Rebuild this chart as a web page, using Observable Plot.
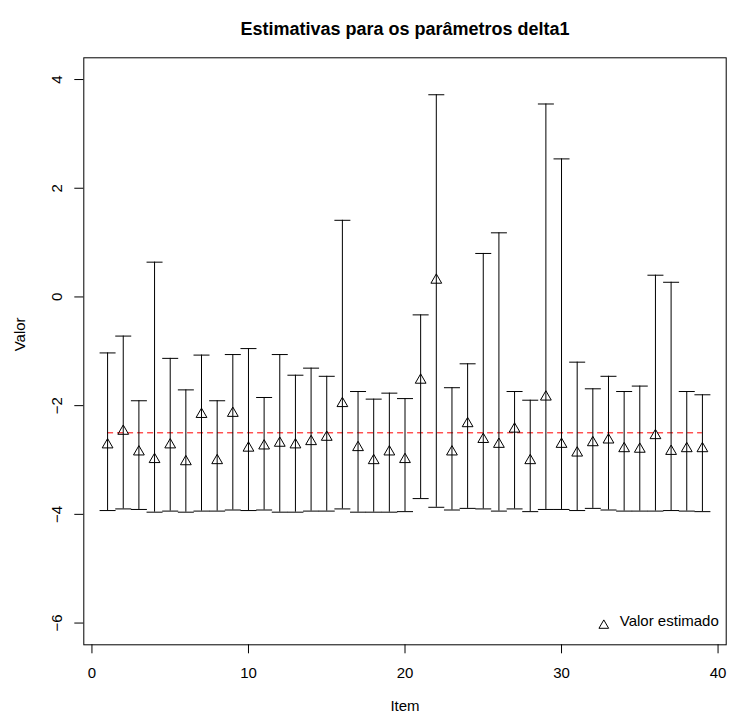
<!DOCTYPE html>
<html>
<head>
<meta charset="utf-8">
<script src="https://cdn.jsdelivr.net/npm/d3@7"></script>
<script src="https://cdn.jsdelivr.net/npm/@observablehq/plot@0.6"></script>
<style>
  html, body { margin: 0; padding: 0; background: white; }
  #chart svg { display: block; }
</style>
</head>
<body>
<div id="chart"></div>
<script>
const titleText = "Estimativas para os parâmetros delta1";
const xLabel = "Item";
const yLabel = "Valor";
const legendLabel = "Valor estimado";

const items = [1,2,3,4,5,6,7,8,9,10,11,12,13,14,15,16,17,18,19,20,
               21,22,23,24,25,26,27,28,29,30,31,32,33,34,35,36,37,38,39];
const estimates = [-2.72,-2.47,-2.85,-2.99,-2.72,-3.03,-2.16,-3.01,-2.14,-2.78,
                   -2.74,-2.69,-2.72,-2.66,-2.58,-1.96,-2.77,-3.01,-2.85,-2.99,
                   -1.53,0.31,-2.85,-2.33,-2.62,-2.71,-2.43,-3.01,-1.84,-2.71,
                   -2.87,-2.68,-2.63,-2.79,-2.80,-2.55,-2.84,-2.79,-2.79];
const upper = [-1.03,-0.72,-1.91,0.64,-1.13,-1.71,-1.07,-1.91,-1.06,-0.95,
               -1.85,-1.06,-1.44,-1.31,-1.46,1.41,-1.74,-1.88,-1.77,-1.87,
               -0.33,3.72,-1.67,-1.23,0.80,1.18,-1.74,-1.90,3.55,2.54,
               -1.20,-1.69,-1.46,-1.74,-1.64,0.40,0.27,-1.74,-1.80];
const lower = [-3.93,-3.90,-3.91,-3.96,-3.94,-3.96,-3.94,-3.94,-3.92,-3.93,
               -3.92,-3.96,-3.96,-3.94,-3.94,-3.90,-3.96,-3.96,-3.96,-3.95,
               -3.71,-3.87,-3.92,-3.89,-3.90,-3.94,-3.90,-3.95,-3.91,-3.91,
               -3.93,-3.89,-3.92,-3.94,-3.94,-3.94,-3.93,-3.94,-3.95];
const referenceValue = [-2.5];
const xTicks = [0, 10, 20, 30, 40];
const yTicks = [-6, -4, -2, 0, 2, 4];

const data = items.map((item, i) => ({item, est: estimates[i], hi: upper[i], lo: lower[i]}));

const capSymbol = {
  draw(context, size) {
    const r = Math.sqrt(size / Math.PI);
    context.moveTo(-r, 0);
    context.lineTo(r, 0);
  }
};

const font = "'Liberation Sans', Arial, Helvetica, sans-serif";

const chart = Plot.plot({
  width: 729,
  height: 718,
  marginLeft: 83.3,
  marginRight: 3.3,
  marginTop: 57.3,
  marginBottom: 73.7,
  style: {fontFamily: font, fontSize: "15px", background: "white", color: "black"},
  x: {domain: [-0.52, 40.52]},
  y: {domain: [-6.4, 4.4]},
  marks: [
    Plot.frame({stroke: "black", strokeWidth: 1}),
    Plot.axisX({ticks: xTicks, tickSize: 9, tickPadding: 14, fontSize: 15, label: null, stroke: "black", tickFormat: d3.format("")}),
    Plot.axisY({ticks: yTicks, tickSize: 9, tickRotate: -90, lineAnchor: "middle", tickPadding: 18, fontSize: 15, label: null, stroke: "black"}),
    Plot.ruleY(referenceValue, {y: d => d, x1: items[0], x2: items[items.length - 1], stroke: "red", strokeWidth: 1, strokeDasharray: "6,4"}),
    Plot.ruleX(data, {x: "item", y1: "lo", y2: "hi", stroke: "black", strokeWidth: 1}),
    Plot.dot(data, {x: "item", y: "hi", symbol: capSymbol, r: 8, stroke: "black", strokeWidth: 1, fill: "none"}),
    Plot.dot(data, {x: "item", y: "lo", symbol: capSymbol, r: 8, stroke: "black", strokeWidth: 1, fill: "none"}),
    Plot.dot(data, {x: "item", y: "est", symbol: "triangle", r: 4, stroke: "black", strokeWidth: 1, fill: "none"}),
    Plot.dot([legendLabel], {frameAnchor: "bottom-right", dx: -122.4, dy: -19.3, symbol: "triangle", r: 3.6, stroke: "black", strokeWidth: 1, fill: "none"}),
    Plot.text([legendLabel], {text: d => d, frameAnchor: "bottom-right", textAnchor: "start", dx: -106.4, dy: -19.3, fontSize: 15, fill: "black"}),
    Plot.text([titleText], {text: d => d, frameAnchor: "top", dy: -36, fontSize: 18, fontWeight: "bold", fill: "black"}),
    Plot.text([xLabel], {text: d => d, frameAnchor: "bottom", dy: 65.7, fontSize: 15, fill: "black"}),
    Plot.text([yLabel], {text: d => d, frameAnchor: "left", dx: -63.3, rotate: -90, fontSize: 15, fill: "black"})
  ]
});
document.getElementById("chart").appendChild(chart);
</script>
</body>
</html>
